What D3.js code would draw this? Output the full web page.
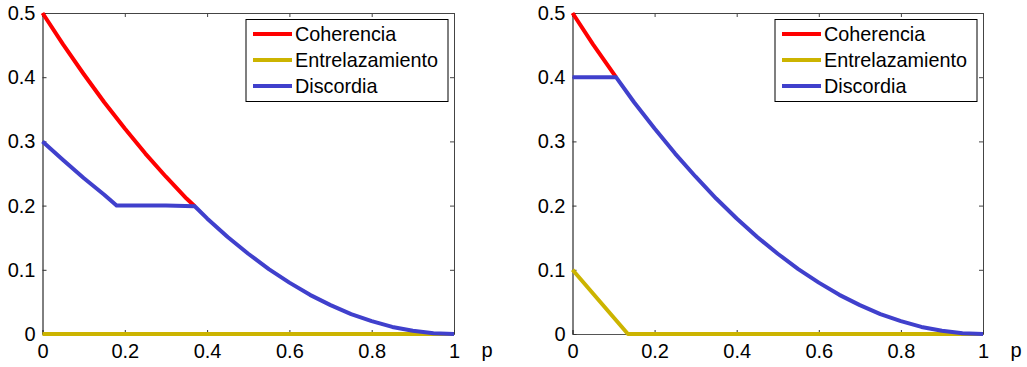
<!DOCTYPE html>
<html>
<head>
<meta charset="utf-8">
<script src="https://cdn.jsdelivr.net/npm/d3@7"></script>
<style>
  body { margin: 0; background: #fff; }
  svg { display: block; font-family: "Liberation Sans", Arial, sans-serif; }
  .tick text { font-size: 20px; fill: #000; }
</style>
</head>
<body>
<div id="vis"></div>
<script>
/* DATA */
var xTicks = [0, 0.2, 0.4, 0.6, 0.8, 1];
var yTicks = [0, 0.1, 0.2, 0.3, 0.4, 0.5];
var seriesNames = ["Coherencia", "Entrelazamiento", "Discordia"];
var seriesColors = ["#ff0000", "#ccb400", "#4040cc"];

// left panel
var leftCoherenciaP = [0, 0.05, 0.1, 0.15, 0.2, 0.25, 0.3, 0.35, 0.37];
var leftCoherenciaV = [0.5, 0.451, 0.405, 0.361, 0.32, 0.281, 0.245, 0.211, 0.199];
var leftEntrelazP = [0, 1];
var leftEntrelazV = [0, 0];
var leftDiscordiaP = [0, 0.05, 0.1, 0.15, 0.18, 0.25, 0.3, 0.37, 0.4, 0.45, 0.5, 0.55, 0.6, 0.65, 0.7, 0.75, 0.8, 0.85, 0.9, 0.95, 1];
var leftDiscordiaV = [0.3, 0.271, 0.243, 0.217, 0.2, 0.2, 0.2, 0.199, 0.18, 0.151, 0.125, 0.101, 0.08, 0.061, 0.045, 0.031, 0.02, 0.011, 0.005, 0.001, 0];

// right panel
var rightCoherenciaP = [0, 0.05, 0.106];
var rightCoherenciaV = [0.5, 0.451, 0.4];
var rightEntrelazP = [0, 0.135, 1];
var rightEntrelazV = [0.1, 0, 0];
var rightDiscordiaP = [0, 0.106, 0.15, 0.2, 0.25, 0.3, 0.35, 0.4, 0.45, 0.5, 0.55, 0.6, 0.65, 0.7, 0.75, 0.8, 0.85, 0.9, 0.95, 1];
var rightDiscordiaV = [0.4, 0.4, 0.361, 0.32, 0.281, 0.245, 0.211, 0.18, 0.151, 0.125, 0.101, 0.08, 0.061, 0.045, 0.031, 0.02, 0.011, 0.005, 0.001, 0];

function zip(ps, vs) { return ps.map(function (p, i) { return {p: p, v: vs[i]}; }); }

var w = 1027, h = 367;
var svg = d3.select("#vis").append("svg").attr("width", w).attr("height", h);

function drawPanel(left, right, series) {
    var top = 13, bottom = 334;
    var x = d3.scaleLinear().domain([0, 1]).range([left, right]);
    var y = d3.scaleLinear().domain([0, 0.5]).range([bottom, top]);

    var g = svg.append("g");

    // box (top/right) with inward ticks
    g.append("g").attr("transform", "translate(0," + top + ")")
        .call(d3.axisTop(x).tickValues(xTicks).tickSize(-4).tickFormat(""))
        .call(function (a) { a.select(".domain").attr("stroke", "#444"); a.selectAll(".tick line").attr("stroke", "#444"); });
    g.append("g").attr("transform", "translate(" + right + ",0)")
        .call(d3.axisRight(y).tickValues(yTicks).tickSize(-4).tickFormat(""))
        .call(function (a) { a.select(".domain").attr("stroke", "#444"); a.selectAll(".tick line").attr("stroke", "#444"); });

    // bottom axis
    g.append("g").attr("transform", "translate(0," + bottom + ")")
        .call(d3.axisBottom(x).tickValues(xTicks).tickSize(-4).tickPadding(10).tickSizeOuter(0)
            .tickFormat(function (d) { return d === 0 || d === 1 ? d3.format("d")(d) : d3.format(".1f")(d); }))
        .call(function (a) { a.select(".domain").attr("stroke", "#555"); a.selectAll(".tick line").attr("stroke", "#333"); });

    // left axis
    g.append("g").attr("transform", "translate(" + left + ",0)")
        .call(d3.axisLeft(y).tickValues(yTicks).tickSize(-4).tickPadding(7).tickSizeOuter(0)
            .tickFormat(function (d) { return d === 0 ? "0" : d3.format(".1f")(d); }))
        .call(function (a) { a.select(".domain").attr("stroke", "#000"); a.selectAll(".tick line").attr("stroke", "#333"); });

    // axis label
    g.append("text")
        .attr("x", right + 33).attr("y", 357)
        .attr("text-anchor", "middle")
        .style("font-size", "20px")
        .text("p");

    var line = d3.line().x(function (d) { return x(d.p); }).y(function (d) { return y(d.v); });

    series.forEach(function (s, i) {
        g.append("path")
            .datum(s)
            .attr("d", line)
            .attr("fill", "none")
            .attr("stroke", seriesColors[i])
            .attr("stroke-width", 4)
            .attr("stroke-linejoin", "round");
    });

    // legend
    var lx = right - 208, ly = 19.5, lw = 202, lh = 82;
    var leg = g.append("g");
    leg.append("rect")
        .attr("x", lx).attr("y", ly).attr("width", lw).attr("height", lh)
        .attr("fill", "#fff").attr("stroke", "#000").attr("stroke-width", 1);
    seriesNames.forEach(function (name, i) {
        var yy = ly + 14.5 + i * 26;
        leg.append("line")
            .attr("x1", lx + 7).attr("x2", lx + 46)
            .attr("y1", yy).attr("y2", yy)
            .attr("stroke", seriesColors[i]).attr("stroke-width", 4);
        leg.append("text")
            .attr("x", lx + 49).attr("y", yy)
            .attr("dy", "0.35em")
            .style("font-size", "19.8px")
            .text(name);
    });
}

drawPanel(42.5, 454, [
    zip(leftCoherenciaP, leftCoherenciaV),
    zip(leftEntrelazP, leftEntrelazV),
    zip(leftDiscordiaP, leftDiscordiaV)
]);

drawPanel(572.5, 983, [
    zip(rightCoherenciaP, rightCoherenciaV),
    zip(rightEntrelazP, rightEntrelazV),
    zip(rightDiscordiaP, rightDiscordiaV)
]);
</script>
</body>
</html>
